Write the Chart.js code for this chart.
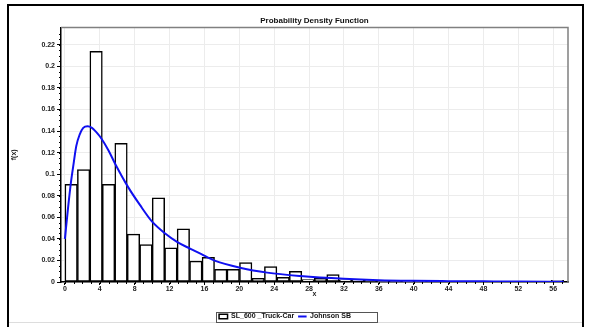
<!DOCTYPE html>
<html>
<head>
<meta charset="utf-8">
<script src="https://cdn.jsdelivr.net/npm/chart.js@4/dist/chart.umd.min.js"></script>
<style>
  html, body { margin: 0; padding: 0; background: #fff; }
  #wrap { width: 591px; height: 327px; }
</style>
</head>
<body>
<div id="wrap"><canvas id="myChart" width="591" height="327"></canvas></div>
<script>
// histogram: 40 bins of equal width starting at 0
const binStart = 0;
const binWidth = 1.43;
const histValues = [
    0.0907, 0.1044, 0.214, 0.0907, 0.1287, 0.0444, 0.0348, 0.078, 0.0317, 0.0494,
    0.0193, 0.023, 0.0118, 0.0118, 0.018, 0.0034, 0.0143, 0.0044, 0.010, 0.0022,
    0.0034, 0.0068, 0.002, 0.002, 0.0016, 0.001, 0.001, 0.0008, 0.0008, 0.0006,
    0.0005, 0.0005, 0.0004, 0.0004, 0.0003, 0.0003, 0.0003, 0.0002, 0.0002, 0.0016
];

// fitted Johnson SB density
const curveX = [0, 0.35, 0.7, 1.0, 1.3, 1.7, 2.1, 2.6, 3.1, 3.6, 4.1, 5, 5.8, 7.25, 8.6, 10,
    11.5, 12.9, 14.35, 15.6, 17.1, 20.2, 23.2, 27, 32, 36, 40, 44, 48, 52, 56, 57.2];
const curveY = [0.040, 0.068, 0.093, 0.110, 0.126, 0.137, 0.143, 0.1445, 0.143, 0.139, 0.134, 0.122, 0.109, 0.088, 0.0715, 0.056,
    0.045, 0.037, 0.031, 0.026, 0.020, 0.013, 0.0087, 0.0056, 0.003, 0.0017, 0.0011, 0.0008, 0.0006, 0.0004, 0.0003, 0.0003];

const xTicks = [0, 4, 8, 12, 16, 20, 24, 28, 32, 36, 40, 44, 48, 52, 56];
const yTicks = [0, 0.02, 0.04, 0.06, 0.08, 0.1, 0.12, 0.14, 0.16, 0.18, 0.2, 0.22];

const histLabel = 'SL_600 _Truck-Car';
const curveLabel = 'Johnson SB';
const chartTitle = 'Probability Density Function';

const FONT = "'Liberation Sans', Arial, sans-serif";

const histData = histValues.map((v, i) => ({ x: binStart + binWidth * (i + 0.5), y: v }));
const curveData = curveX.map((x, i) => ({ x: x, y: curveY[i] }));

// frame, plot border, minor ticks and the legend box
const decorPlugin = {
    id: 'decor',
    beforeDraw(chart) {
        const ctx = chart.ctx;
        ctx.save();
        ctx.fillStyle = '#fff';
        ctx.fillRect(0, 0, chart.width, chart.height);
        ctx.restore();
    },
    afterDraw(chart) {
        const ctx = chart.ctx;
        const a = chart.chartArea;
        ctx.save();
        // outer frame
        ctx.strokeStyle = '#000';
        ctx.lineWidth = 2;
        ctx.beginPath();
        ctx.moveTo(8, 327);
        ctx.lineTo(8, 5);
        ctx.lineTo(583, 5);
        ctx.lineTo(583, 327);
        ctx.stroke();
        ctx.strokeStyle = '#ddd';
        ctx.lineWidth = 1;
        ctx.beginPath();
        ctx.moveTo(9, 322.5);
        ctx.lineTo(582, 322.5);
        ctx.stroke();

        // gray top/right plot border
        ctx.strokeStyle = '#808080';
        ctx.lineWidth = 1.5;
        ctx.beginPath();
        ctx.moveTo(a.left, a.top);
        ctx.lineTo(a.right, a.top);
        ctx.lineTo(a.right, a.bottom);
        ctx.stroke();

        // minor ticks
        const xs = chart.scales.x, ys = chart.scales.y;
        ctx.strokeStyle = '#000';
        ctx.lineWidth = 1;
        ctx.beginPath();
        for (let v = 0; v <= 57; v += 1) {
            const px = Math.round(xs.getPixelForValue(v)) + 0.5;
            ctx.moveTo(px, a.bottom);
            ctx.lineTo(px, a.bottom + 2);
        }
        for (let v = 0; v <= 0.235; v += 0.005) {
            const py = Math.round(ys.getPixelForValue(v)) + 0.5;
            ctx.moveTo(a.left - 2, py);
            ctx.lineTo(a.left, py);
        }
        ctx.stroke();

        // legend box
        const lg = chart.legend;
        if (lg && lg.legendHitBoxes && lg.legendHitBoxes.length) {
            const hb = lg.legendHitBoxes;
            const l = hb[0].left - 3;
            const r = hb[hb.length - 1].left + hb[hb.length - 1].width + 26;
            const t = hb[0].top - 1.5;
            const b = hb[0].top + hb[0].height + 1.5;
            ctx.strokeStyle = '#555';
            ctx.lineWidth = 1;
            ctx.strokeRect(Math.round(l) + 0.5, Math.round(t) + 0.5, Math.round(r - l), Math.round(b - t));
        }
        ctx.restore();
    }
};

const ctx = document.getElementById('myChart').getContext('2d');
const myChart = new Chart(ctx, {
    data: {
        datasets: [
            {
                type: 'bar',
                label: histLabel,
                data: histData,
                backgroundColor: '#fff',
                borderColor: '#000',
                borderWidth: 1.5,
                borderSkipped: false,
                barPercentage: 1,
                categoryPercentage: 1,
                grouped: false,
                order: 1
            },
            {
                type: 'line',
                label: curveLabel,
                data: curveData,
                borderColor: '#1010f0',
                backgroundColor: '#1010f0',
                borderWidth: 2,
                pointRadius: 0,
                cubicInterpolationMode: 'monotone',
                order: 0
            }
        ]
    },
    options: {
        responsive: false,
        animation: false,
        layout: { padding: { left: 2, right: 23, top: 16, bottom: -3 } },
        scales: {
            x: {
                type: 'linear',
                offset: false,
                min: -0.45,
                max: 57.7,
                afterBuildTicks: (scale) => { scale.ticks = xTicks.map(v => ({ value: v })); },
                afterFit: (scale) => { scale.height = 27; },
                ticks: {
                    font: { family: FONT, size: 7, weight: 'bold' },
                    color: '#222',
                    padding: 0,
                    maxRotation: 0,
                    callback: (v) => String(v)
                },
                grid: { offset: false, color: '#ececec', tickColor: '#000', tickLength: 3, lineWidth: 1 },
                border: { color: '#000', width: 1.5 },
                title: {
                    display: true,
                    text: 'x',
                    font: { family: FONT, size: 7, weight: 'bold' },
                    color: '#222',
                    padding: { top: 0, bottom: 11 }
                }
            },
            y: {
                min: 0,
                max: 0.236,
                afterBuildTicks: (scale) => { scale.ticks = yTicks.map(v => ({ value: v })); },
                afterFit: (scale) => { scale.width = 59; },
                ticks: {
                    font: { family: FONT, size: 7, weight: 'bold' },
                    color: '#222',
                    padding: 2,
                    callback: (v) => String(Math.round(v * 100) / 100)
                },
                grid: { color: '#ececec', tickColor: '#000', tickLength: 4, lineWidth: 1 },
                border: { color: '#000', width: 1.5 },
                title: {
                    display: true,
                    text: 'f(x)',
                    font: { family: FONT, size: 7, weight: 'bold' },
                    color: '#222',
                    padding: { top: 8, bottom: 0 }
                }
            }
        },
        plugins: {
            title: {
                display: true,
                text: chartTitle,
                fullSize: false,
                font: { family: FONT, size: 8, weight: 'bold' },
                color: '#111',
                padding: { top: 0, bottom: 2 }
            },
            legend: {
                position: 'bottom',
                labels: {
                    font: { family: FONT, size: 7, weight: 'bold' },
                    color: '#111',
                    usePointStyle: true,
                    pointStyleWidth: 8.5,
                    boxHeight: 4.5,
                    padding: 4,
                    generateLabels: (chart) => {
                        const items = Chart.defaults.plugins.legend.labels.generateLabels(chart);
                        items.sort((p, q) => p.datasetIndex - q.datasetIndex);
                        return items.map(it => {
                            const ds = chart.data.datasets[it.datasetIndex];
                            if (ds.type === 'bar') {
                                it.pointStyle = 'rect';
                                it.fillStyle = '#fff';
                                it.strokeStyle = '#000';
                                it.lineWidth = 1.5;
                            } else {
                                it.pointStyle = 'line';
                                it.strokeStyle = ds.borderColor;
                                it.lineWidth = 2;
                            }
                            return it;
                        });
                    }
                }
            },
            tooltip: { enabled: false }
        }
    },
    plugins: [decorPlugin]
});
</script>
</body>
</html>
